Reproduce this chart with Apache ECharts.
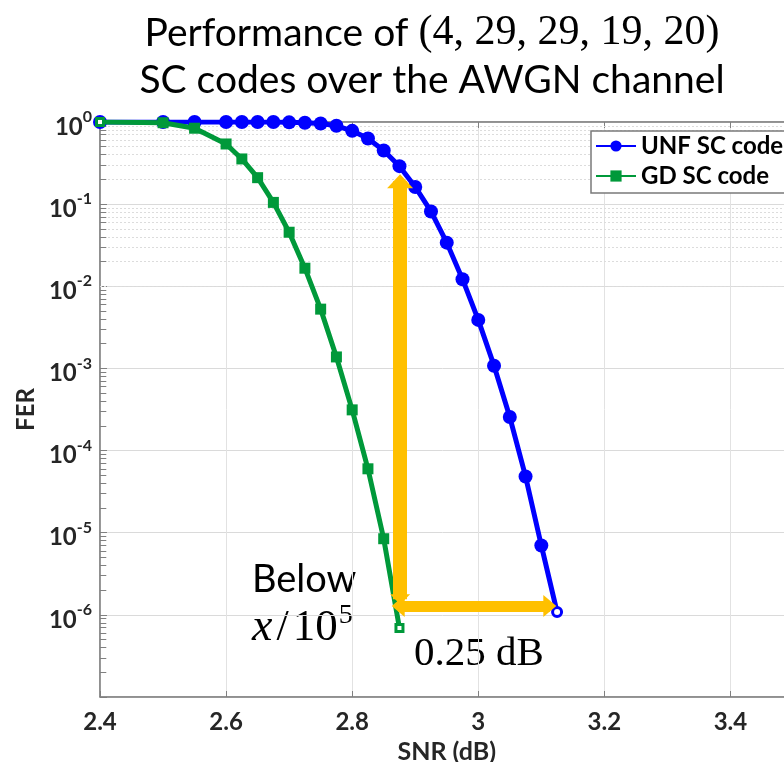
<!DOCTYPE html>
<html>
<head>
<meta charset="utf-8">
<script src="https://cdn.jsdelivr.net/npm/echarts@6/dist/echarts.min.js"></script>
<style>
  html, body { margin: 0; padding: 0; background: #fff; }
  #chart { width: 784px; height: 762px; }
</style>
</head>
<body>
<div id="chart"></div>
<script>
// SNR (dB) and FER
var snrUnf = [2.4, 2.5, 2.55, 2.6, 2.625, 2.65, 2.675, 2.7, 2.725, 2.75, 2.775, 2.8, 2.825, 2.85, 2.875,
              2.9, 2.925, 2.95, 2.975, 3.0, 3.025, 3.05, 3.075, 3.1, 3.125];
var ferUnf = [1, 1, 1, 1, 1, 1, 1, 0.99, 0.98, 0.96, 0.9, 0.78, 0.63, 0.45, 0.29,
              0.162, 0.0815, 0.034, 0.0122, 0.0039, 0.00108, 2.56e-4, 4.84e-5, 7.0e-6, 1.08e-6];
var snrGd = [2.4, 2.5, 2.55, 2.6, 2.625, 2.65, 2.675, 2.7, 2.725, 2.75, 2.775, 2.8, 2.825, 2.85, 2.875];
var ferGd = [1, 0.98, 0.84, 0.54, 0.355, 0.21, 0.105, 0.0455, 0.0166, 0.00527, 0.00138, 3.13e-4, 6.0e-5, 8.45e-6, 6.9e-7];

var seriesNames = ['UNF SC code', 'GD SC code'];
var snrTicks = [2.4, 2.6, 2.8, 3, 3.2, 3.4];
var ferExponents = [0, -1, -2, -3, -4, -5, -6];

// annotation: gap between the curves at FER ~ 1e-6
var gapLeft = 2.875, gapRight = 3.125;

var BLUE = '#0000ff', GREEN = '#00993a', ORANGE = '#ffc000', INK = '#262626';

// minor decade lines 2..9 x 10^k
var minorVals = [];
for (var k = -7; k < 0; k++) {
    for (var m = 2; m <= 9; m++) minorVals.push(m * Math.pow(10, k));
}

function toPairs(xs, ys) {
    return xs.map(function (x, i) { return [x, ys[i]]; });
}

var unfData = toPairs(snrUnf, ferUnf);
unfData[unfData.length - 1] = {
    value: unfData[unfData.length - 1], symbolSize: 9,
    itemStyle: { color: '#fff', borderColor: BLUE, borderWidth: 3 }
};
var gdData = toPairs(snrGd, ferGd);
[0, gdData.length - 1].forEach(function (i) {
    gdData[i] = {
        value: gdData[i], symbolSize: 7,
        itemStyle: { color: '#fff', borderColor: GREEN, borderWidth: 3 }
    };
});

var chart = echarts.init(document.getElementById('chart'));

var option = {
    animation: false,
    grid: {
        left: 100, top: 122, right: -9.5, bottom: 65,
        containLabel: false, outerBoundsMode: 'none',
        show: true, borderColor: '#808080', borderWidth: 1
    },
    legend: {
        data: seriesNames,
        left: 591, top: 131,
        orient: 'vertical',
        backgroundColor: '#fff',
        borderColor: '#7a7a7a', borderWidth: 1.5,
        padding: [3, 40, 5, 4],
        itemGap: 6,
        itemWidth: 40, itemHeight: 14,
        z: 10,
        textStyle: { fontFamily: 'Lato', fontWeight: 'bold', fontSize: 24, color: '#000' }
    },
    xAxis: [{
        type: 'value', min: 2.4, max: 3.5, interval: 0.2,
        name: 'SNR (dB)', nameLocation: 'middle', nameGap: 42,
        nameTextStyle: { fontFamily: 'Lato', fontWeight: 'bold', fontSize: 25, color: INK },
        axisLine: { lineStyle: { color: '#808080', width: 1.5 } },
        axisTick: { inside: true, length: 6, lineStyle: { color: '#808080' } },
        axisLabel: {
            margin: 13, fontFamily: 'Lato', fontWeight: 'bold', fontSize: 24, color: INK,
            showMaxLabel: false,
            formatter: function (v) {
                var hit = snrTicks.filter(function (t) { return Math.abs(t - v) < 1e-6; });
                return hit.length ? String(hit[0]) : '';
            }
        },
        splitLine: { show: true, lineStyle: { color: '#e2e2e2', width: 1 } }
    }, {
        type: 'value', min: 2.4, max: 3.5, interval: 0.2, position: 'top',
        axisLine: { lineStyle: { color: '#808080', width: 1.5 } },
        axisTick: { inside: true, length: 6, lineStyle: { color: '#808080' } },
        axisLabel: { show: false },
        splitLine: { show: false }
    }],
    yAxis: {
        type: 'log', logBase: 10, min: 1e-7, max: 1, interval: 1,
        name: 'FER', nameLocation: 'middle', nameGap: 62, nameRotate: 90,
        nameTextStyle: { fontFamily: 'Lato', fontWeight: 'bold', fontSize: 24, color: INK },
        axisLine: { show: true, lineStyle: { color: '#808080', width: 1.5 } },
        axisTick: { inside: true, length: 7, lineStyle: { color: '#808080' } },
        axisLabel: {
            margin: 8,
            formatter: function (v) {
                var e = Math.round(Math.log(v) / Math.LN10);
                if (ferExponents.indexOf(e) < 0) return '';
                return '{b|10}{s|' + e + '}';
            },
            rich: {
                b: { fontFamily: 'Lato', fontWeight: 'bold', fontSize: 24, color: INK, padding: [10, 0, 0, 0] },
                s: { fontFamily: 'Lato', fontWeight: 'bold', fontSize: 16, color: INK, padding: [0, 0, 10, 0] }
            }
        },
        splitLine: { show: true, lineStyle: { color: '#dadada', width: 1 } }
    },
    series: [{
        // minor grid + minor ticks on the log axis
        name: 'minor', type: 'line', data: [], silent: true, z: 1,
        markLine: {
            silent: true, symbol: ['none', 'none'], animation: false, z: 1,
            label: { show: false },
            lineStyle: { color: '#dcdcdc', width: 1, type: [2, 2] },
            data: minorVals.map(function (v) { return { yAxis: v }; }).concat(
                minorVals.map(function (v) {
                    return [{ coord: [2.4, v], lineStyle: { color: '#808080', type: 'solid' } },
                            { coord: [2.41, v] }];
                }))
        }
    }, {
        name: seriesNames[0], type: 'line', data: unfData,
        symbol: 'circle', symbolSize: 14,
        lineStyle: { color: BLUE, width: 5 },
        itemStyle: { color: BLUE },
        z: 3
    }, {
        name: seriesNames[1], type: 'line', data: gdData,
        symbol: 'rect', symbolSize: 11,
        lineStyle: { color: GREEN, width: 5 },
        itemStyle: { color: GREEN },
        z: 4
    }, {
        name: 'gap', type: 'line', data: [], silent: true, z: 5,
        markLine: {
            silent: true, animation: false, z: 5,
            symbol: ['triangle', 'triangle'],
            label: { show: false },
            data: [
                [{ coord: [gapLeft + 0.001, 1.55e-6], symbolSize: [20, 10],
                   lineStyle: { color: ORANGE, width: 14, type: 'solid' } },
                 { coord: [gapLeft + 0.001, 0.19], symbolSize: [26, 14] }],
                [{ coord: [gapLeft - 0.002, 1.28e-6], symbolSize: [22, 13],
                   lineStyle: { color: ORANGE, width: 11, type: 'solid' } },
                 { coord: [gapRight - 0.0115, 1.28e-6], symbolSize: [22, 13] }]
            ],
            itemStyle: { color: ORANGE }
        }
    }],
    graphic: [{
        type: 'text', x: 432, y: 33,
        style: {
            text: '{a|Performance of }{m|(4, 29, 29, 19, 20)}',
            align: 'center', verticalAlign: 'middle',
            rich: {
                a: { fontFamily: 'Lato', fontSize: 39, fill: '#000' },
                m: { fontFamily: 'Liberation Serif', fontSize: 42, fill: '#000' }
            }
        }
    }, {
        type: 'text', x: 432, y: 80,
        style: {
            text: 'SC codes over the AWGN channel',
            align: 'center', verticalAlign: 'middle',
            fontFamily: 'Lato', fontSize: 39, fill: '#000'
        }
    }, {
        type: 'text', x: 252, y: 580,
        style: { text: 'Below', verticalAlign: 'middle', fontFamily: 'Lato', fontSize: 38, fill: '#000' }
    }, {
        type: 'text', x: 252, y: 628,
        style: {
            text: '{i|x}{n|/}{d|10}{s|5}', verticalAlign: 'middle',
            rich: {
                i: { fontFamily: 'Liberation Serif', fontStyle: 'italic', fontSize: 46, fill: '#000' },
                n: { fontFamily: 'Liberation Serif', fontSize: 44, fill: '#000', padding: [0, 4, 0, 4] },
                d: { fontFamily: 'Liberation Serif', fontSize: 45, fill: '#000' },
                s: { fontFamily: 'Liberation Serif', fontSize: 28, fill: '#000', padding: [0, 0, 24, 1] }
            }
        }
    }, {
        type: 'text', x: 414, y: 654,
        style: { text: '0.25 dB', verticalAlign: 'middle', fontFamily: 'Liberation Serif', fontSize: 41, fill: '#000' }
    }]
};

chart.setOption(option);
</script>
</body>
</html>
